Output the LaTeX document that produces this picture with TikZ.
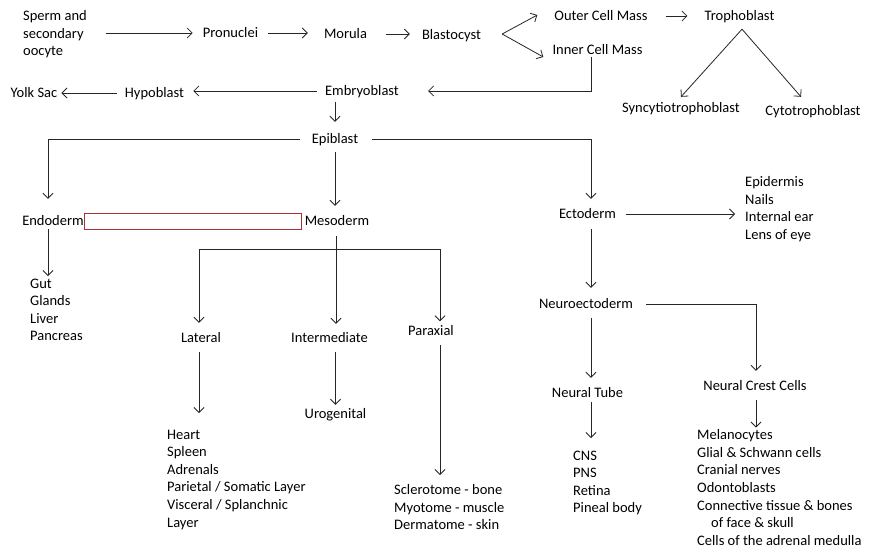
\documentclass[tikz,border=0pt]{standalone}
\usepackage{fontspec}
\setmainfont{Carlito}
\usetikzlibrary{arrows.meta}
\definecolor{boxred}{RGB}{170,50,55}
\begin{document}
\begin{tikzpicture}[x=1pt,y=-1pt,
  base/.style={inner sep=0pt, font=\fontsize{14.5}{17.6}\selectfont},
  lbl/.style={base, text height=11.5pt, text depth=2.5pt},
  lst/.style={base, align=left, anchor=north west},
  ln/.style={line width=0.8pt, draw=black!85},
  arr/.style={ln, -{Straight Barb[length=5pt,width=10pt,line width=0.8pt]}}]
\useasboundingbox (0,0) rectangle (876,558);
\fill[white] (0,0) rectangle (876,558);

% single labels
\node[lbl] (pron) at (230.5,33) {Pronuclei};
\node[lbl] (mor) at (345.5,34) {Morula};
\node[lbl] (blast) at (451.5,35) {Blastocyst};
\node[lbl] (ocm) at (601,16) {Outer Cell Mass};
\node[lbl] (tropho) at (739.5,16) {Trophoblast};
\node[lbl] (sync) at (681,108) {Syncytiotrophoblast};
\node[lbl] (cyto) at (813,111) {Cytotrophoblast};
\node[lbl] (icm) at (597.5,50) {Inner Cell Mass};
\node[lbl] (emb) at (362,91) {Embryoblast};
\node[lbl] (hypo) at (154.5,93) {Hypoblast};
\node[lbl] (yolk) at (34,93) {Yolk Sac};
\node[lbl] (epi) at (335,139) {Epiblast};
\node[lbl] (endo) at (53,221) {Endoderm};
\node[lbl] (meso) at (337,221) {Mesoderm};
\node[lbl] (ecto) at (587.5,214) {Ectoderm};
\node[lbl] (neuro) at (586,304) {Neuroectoderm};
\node[lbl] (lat) at (201,338) {Lateral};
\node[lbl] (inter) at (329.5,338) {Intermediate};
\node[lbl] (para) at (431,331) {Paraxial};
\node[lbl] (uro) at (335.5,414) {Urogenital};
\node[lbl] (ntube) at (587.5,393) {Neural Tube};
\node[lbl] (ncc) at (755,386) {Neural Crest Cells};

% lists
\node[lst] (sperm) at (23,10.5) {Sperm and\\secondary\\oocyte};
\node[lst] (gut) at (30,278.5) {Gut\\Glands\\Liver\\Pancreas};
\node[lst] (heart) at (167,429.5) {Heart\\Spleen\\Adrenals\\Parietal / Somatic Layer\\Visceral / Splanchnic\\Layer};
\node[lst] (scler) at (394,484.5) {Sclerotome - bone\\Myotome - muscle\\Dermatome - skin};
\node[lst] (epid) at (745,176.5) {Epidermis\\Nails\\Internal ear\\Lens of eye};
\node[lst] (cns) at (573,450.5) {CNS\\PNS\\Retina\\Pineal body};
\node[lst] (mel) at (697,429.5) {Melanocytes\\Glial \& Schwann cells\\Cranial nerves\\Odontoblasts\\Connective tissue \& bones\\\hspace*{14pt}of face \& skull\\Cells of the adrenal medulla};

% empty red box
\node[draw=boxred, line width=0.8pt, minimum width=217pt, minimum height=16pt, inner sep=0pt] (blank) at (192.5,221) {};

% connectors (yshift is in page units: positive = up)
\draw[arr] ([xshift=19pt]sperm.east |- pron.west) -- ([xshift=-10pt]pron.west);
\draw[arr] ([xshift=10pt]pron.east) -- ([xshift=-16pt]mor.west |- pron.east);
\draw[arr] ([xshift=19pt]mor.east) -- ([xshift=-12pt]blast.west |- mor.east);
\coordinate (bfork) at ([xshift=21pt,yshift=1pt]blast.east);
\draw[arr] (bfork) -- ([xshift=-17pt,yshift=1pt]ocm.west);
\draw[arr] (bfork) -- ([xshift=-9pt,yshift=-7pt]icm.west);
\draw[arr] ([xshift=18pt]ocm.east) -- ([xshift=-17pt]tropho.west);
\coordinate (tapex) at ([xshift=2.5pt,yshift=-6pt]tropho.south);
\draw[arr] (tapex) -- ([yshift=4pt]sync.north);
\draw[arr] (tapex) -- ([xshift=-12pt,yshift=7pt]cyto.north);
\draw[arr] ([xshift=-6.5pt,yshift=0.5pt]icm.south) |- ([xshift=29pt]emb.east);
\draw[arr] ([xshift=-8pt]emb.west) -- ([xshift=9pt]hypo.east |- emb.west);
\draw[arr] ([xshift=-8pt]hypo.west) -- ([xshift=4pt]yolk.east);
\draw[arr] ([yshift=-3.5pt]emb.south -| epi.north) -- ([yshift=10pt]epi.north);
\draw[arr] ([xshift=-12pt]epi.west) -| ([xshift=-5pt,yshift=15pt]endo.north);
\draw[arr] ([xshift=14pt]epi.east) -| ([xshift=3.5pt,yshift=8pt]ecto.north);
\draw[arr] ([yshift=-6pt]epi.south) -- ([yshift=8pt]epi.south |- meso.north);
\draw[arr] ([xshift=-5pt,yshift=-1pt]endo.south) -- ([xshift=-5pt,yshift=2.5pt]endo.south |- gut.north);
% mesoderm branches
\draw[arr] ([xshift=-1pt,yshift=-8pt]meso.south) -- ([xshift=-1pt,yshift=7pt]meso.south |- inter.north);
\coordinate (mh) at ([xshift=-1pt,yshift=-21pt]meso.south);
\draw[arr] (mh) -| ([xshift=-2pt,yshift=8pt]lat.north);
\draw[arr] (mh) -| ([xshift=9pt,yshift=2.5pt]para.north);
\draw[arr] ([xshift=-2pt,yshift=-7pt]lat.south) -- ([xshift=-2pt,yshift=16.5pt]lat.south |- heart.north);
\draw[arr] ([yshift=-7pt]inter.south -| uro.north) -- ([yshift=2pt]uro.north);
\draw[arr] ([xshift=9pt,yshift=-7pt]para.south) -- ([xshift=9pt,yshift=9.5pt]para.south |- scler.north);
% ectoderm branches
\draw[arr] ([xshift=10pt]ecto.east) -- ([xshift=-10pt]epid.west |- ecto.east);
\draw[arr] ([xshift=3.5pt,yshift=-8pt]ecto.south) -- ([xshift=5pt,yshift=9pt]neuro.north);
\draw[arr] ([xshift=13pt]neuro.east) -| ([xshift=1pt,yshift=8pt]ncc.north);
\draw[arr] ([xshift=5pt,yshift=-7pt]neuro.south) -- ([xshift=3.5pt,yshift=8pt]ntube.north);
\draw[arr] ([xshift=3.5pt,yshift=-1.5pt]ntube.south) -- ([xshift=3.5pt,yshift=12.5pt]ntube.south |- cns.north);
\draw[arr] ([xshift=1pt,yshift=-7pt]ncc.south) -- ([xshift=1pt,yshift=2pt]ncc.south |- mel.north);
\end{tikzpicture}
\end{document}
